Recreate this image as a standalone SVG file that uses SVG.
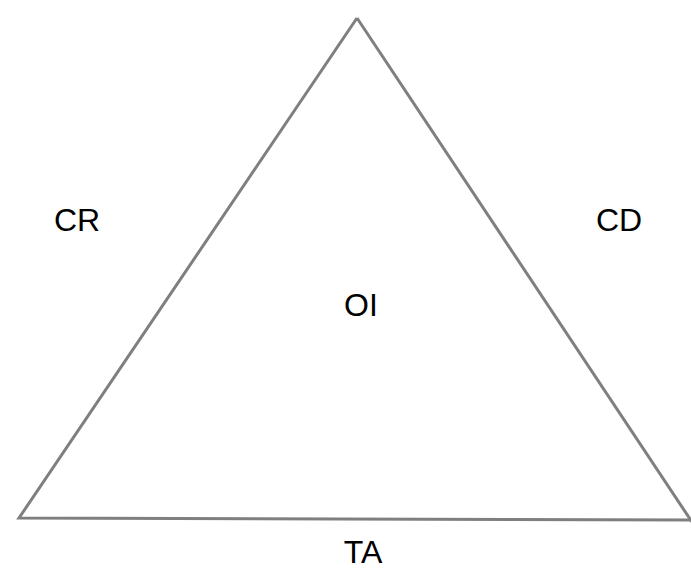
<svg xmlns="http://www.w3.org/2000/svg" width="691" height="569" viewBox="0 0 691 569">
<style>
.lbl{font-family:"Liberation Sans","Noto Sans",sans-serif;font-size:32px;fill:#000;text-anchor:middle}
.edge{stroke:#7f7f7f;stroke-width:3;fill:none;stroke-linejoin:miter}
</style>
<rect width="691" height="569" fill="#fff"/>
<g id="connectors">
<path class="edge" d="M357,18 L19,518 L692,520"/>
<path class="edge" d="M357,18 L692,522"/>
</g>
<g id="CR"><text class="lbl" x="77" y="231">CR</text></g>
<g id="CD"><text class="lbl" x="619" y="231">CD</text></g>
<g id="OI"><text class="lbl" x="361" y="316">OI</text></g>
<g id="TA"><text class="lbl" x="363" y="563">TA</text></g>
</svg>
